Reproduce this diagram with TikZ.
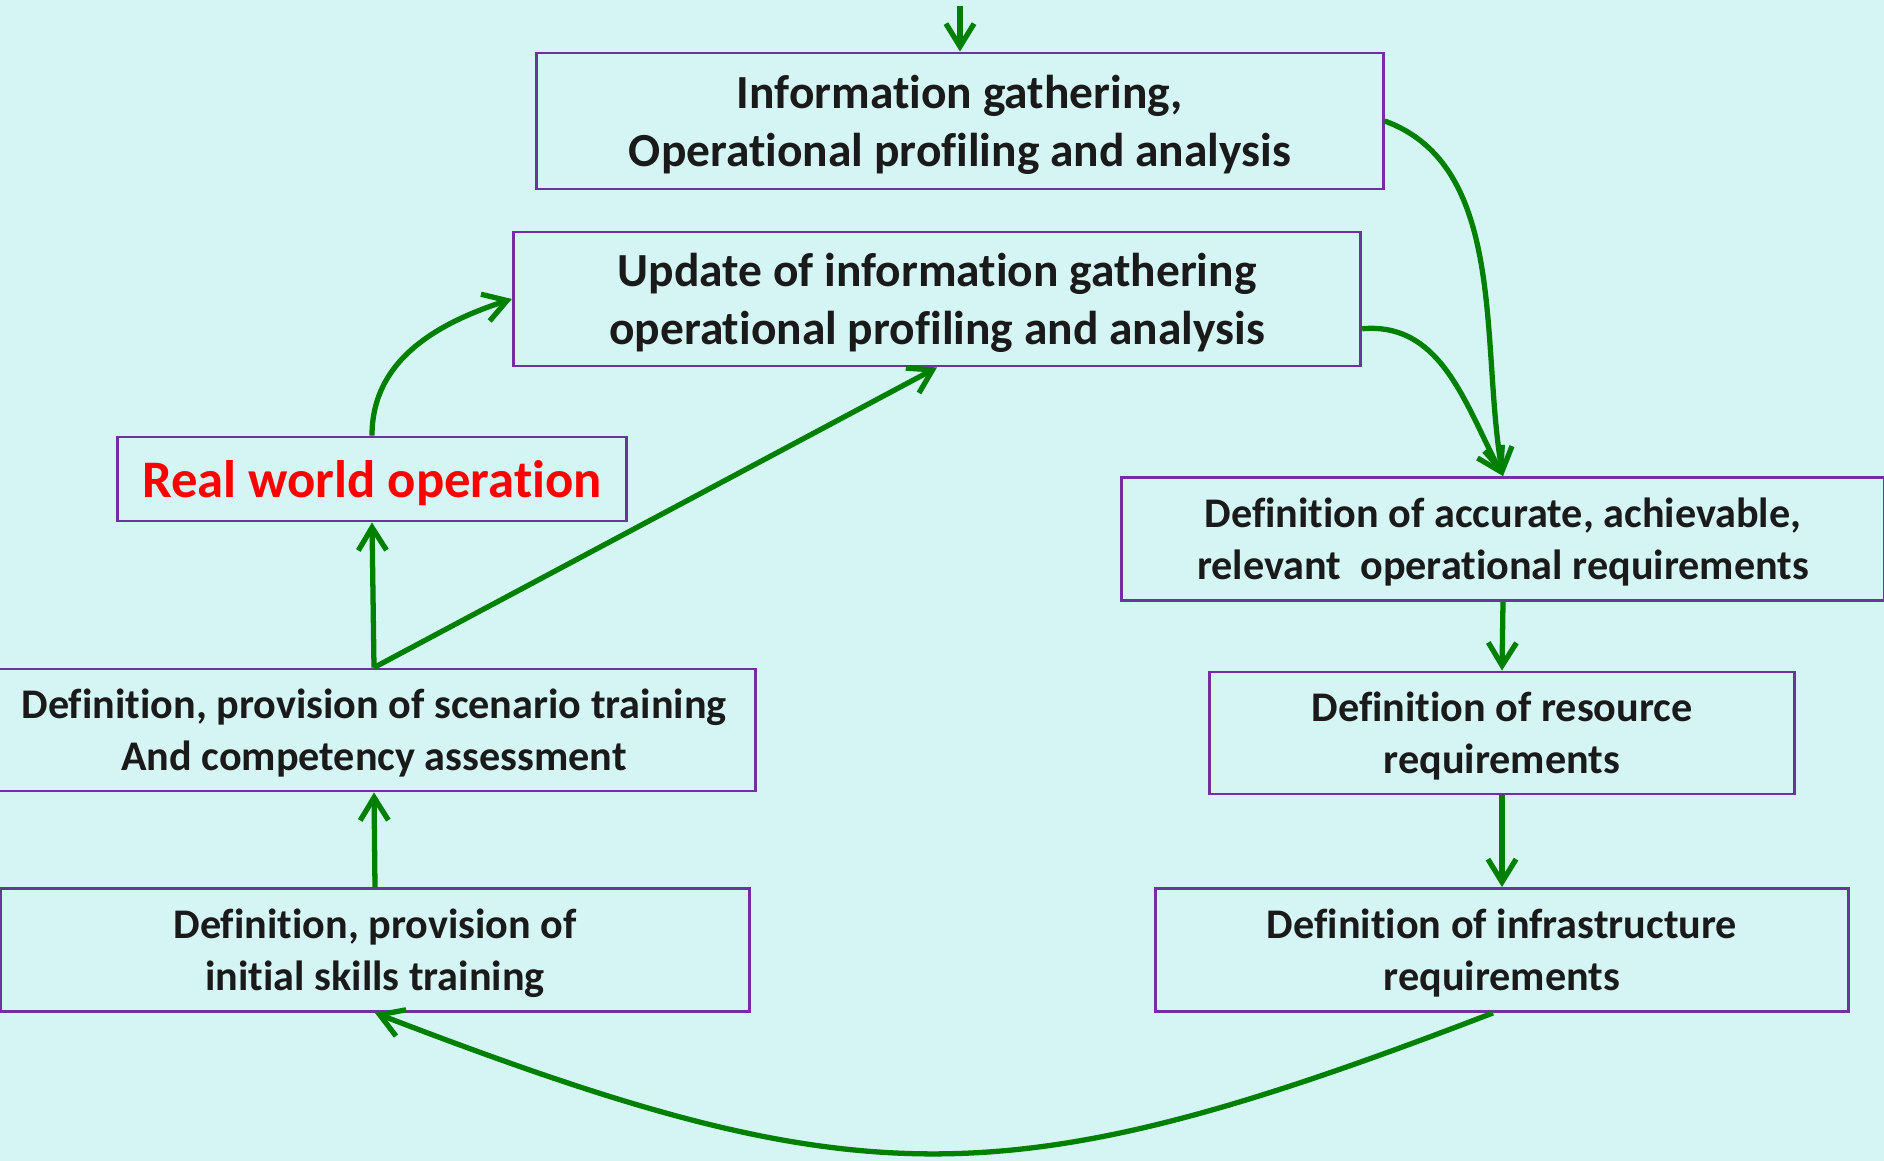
\documentclass[tikz,border=0pt]{standalone}
\usepackage{fontspec}
\setmainfont{Carlito}[RawFeature={-liga;-clig;-dlig}]
\usetikzlibrary{arrows.meta}
\definecolor{bgcyan}{RGB}{213,245,244}
\definecolor{boxline}{RGB}{112,48,160}
\definecolor{flow}{RGB}{0,128,0}
\definecolor{inktext}{RGB}{26,26,26}

\tikzset{
  stage/.style={draw=boxline,line width=0.8pt,align=center,inner sep=0pt,
    text depth=0pt,text=inktext,font=\bfseries\fontsize{13.5}{16.6}\selectfont},
  lower/.style={font=\bfseries\fontsize{12}{14.8}\selectfont},
  flowarrow/.style={draw=flow,line width=1.5pt,
    -{Straight Barb[length=6.5pt,width=8pt]}},
}

\begin{document}
\begin{tikzpicture}[x=0.01cm,y=0.01cm]
      \fill[bgcyan] (0,0) rectangle (1884,-1161);
      \useasboundingbox (0,0) rectangle (1884,-1161);
      %% left column and top
      \node[stage,minimum width=8.46cm,minimum height=1.36cm](info) at (960,-121)
           {Information gathering,\\ Operational profiling and analysis};
      \node[stage,minimum width=8.47cm,minimum height=1.34cm](update) at (937,-299)
           {Update of information gathering\\ operational profiling and analysis};
      \node[stage,minimum width=5.09cm,minimum height=0.84cm,text=red,
            font=\bfseries\fontsize{15}{18}\selectfont](real) at (372,-479)
           {Real world operation};
      \node[stage,lower,minimum width=7.62cm,minimum height=1.22cm](scen) at (374,-730)
           {Definition, provision of scenario training\\ And competency assessment};
      \node[stage,lower,minimum width=7.48cm,minimum height=1.23cm](init) at (375,-950)
           {Definition, provision of\\ initial skills training};
      %% right column
      \node[stage,lower,minimum width=7.62cm,minimum height=1.23cm](accur) at (1503,-539)
           {Definition of accurate, achievable,\\ relevant\ \ operational requirements};
      \node[stage,lower,minimum width=5.85cm,minimum height=1.22cm](res) at (1502,-733)
           {Definition of resource\\ requirements};
      \node[stage,lower,minimum width=6.92cm,minimum height=1.23cm](infra) at (1502,-950)
           {Definition of infrastructure\\ requirements};
      \coordinate(entry) at (960,-6);
      %% connectors
      \draw[flowarrow](entry)--(info.north);
      \draw[flowarrow](info.east) to[out=-20,in=100,looseness=0.9] (accur.north);
      \draw[flowarrow](update.-4) to[out=5,in=118] (accur.north);
      \draw[flowarrow](accur.south)--(res.north);
      \draw[flowarrow](res.south)--(infra.north);
      \draw[flowarrow]([xshift=-0.09cm]infra.south) to[out=201,in=-21,looseness=1.2] (init.south);
      \draw[flowarrow](init.north)--(scen.south);
      \draw[flowarrow](scen.north)--(real.south);
      \draw[flowarrow](scen.north)--(update.south);
      \draw[flowarrow](real.north) to[out=90,in=198] (update.west);
\end{tikzpicture}
\end{document}
